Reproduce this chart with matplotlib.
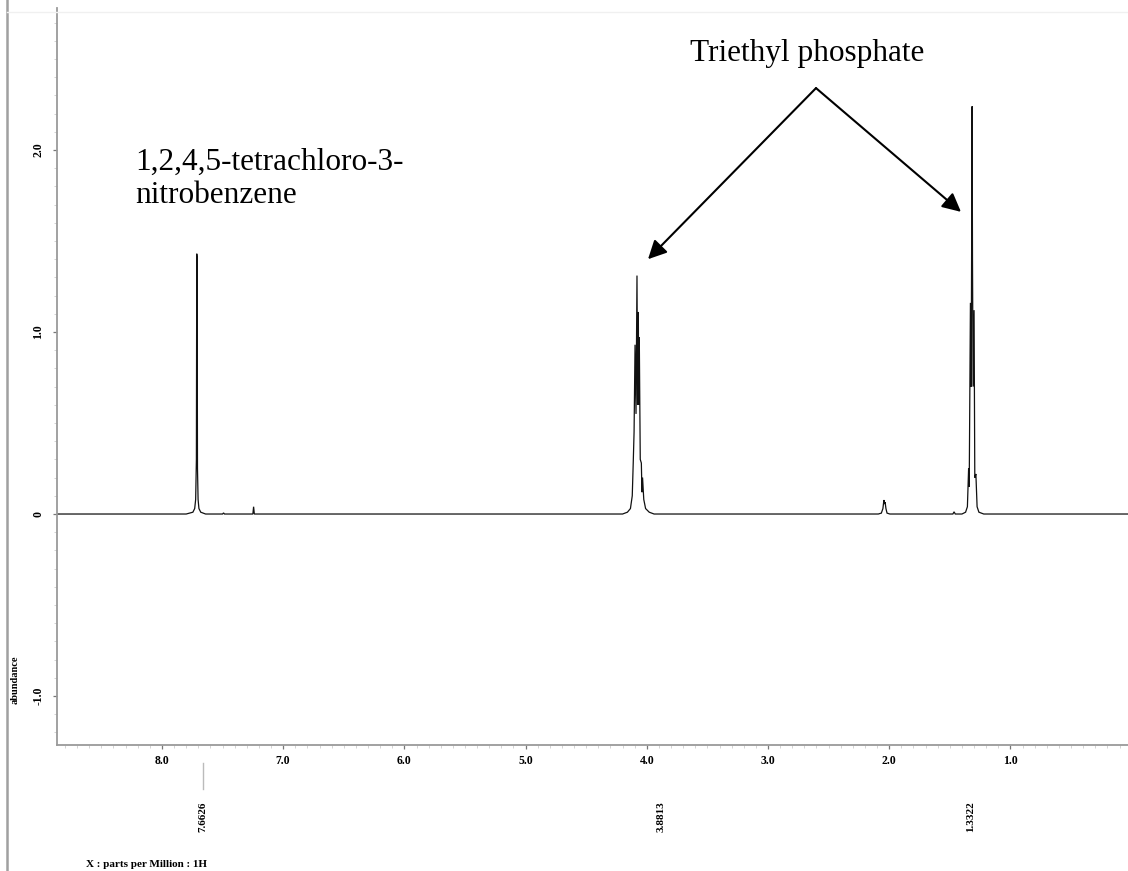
import numpy as np
import matplotlib
matplotlib.use('Agg')
import matplotlib.pyplot as plt
from matplotlib import transforms
from matplotlib.lines import Line2D
from matplotlib.ticker import MultipleLocator

# ── spectrum trace (ppm, abundance), high ppm first ──
ends_ppm = [8.866, 0.03]

arom_ppm = [7.80, 7.745, 7.73, 7.722, 7.716, 7.713, 7.710, 7.707, 7.702, 7.695, 7.68, 7.64]
arom_int = [0.0, 0.01, 0.03, 0.08, 0.30, 1.43, 1.41, 0.25, 0.08, 0.03, 0.01, 0.0]

small_ppm = [7.50, 7.492, 7.484, 7.25, 7.244, 7.238]
small_int = [0.0, 0.006, 0.0, 0.0, 0.04, 0.0]

ch2_ppm = [4.20, 4.16, 4.135, 4.12, 4.112, 4.105, 4.097, 4.089, 4.081, 4.076,
           4.070, 4.066, 4.062, 4.054, 4.045, 4.040, 4.035, 4.025, 4.01, 3.98, 3.94]
ch2_int = [0.0, 0.01, 0.03, 0.10, 0.28, 0.45, 0.93, 0.55, 1.31, 0.60,
           1.11, 0.60, 0.97, 0.30, 0.28, 0.12, 0.20, 0.08, 0.03, 0.01, 0.0]

acet_ppm = [2.09, 2.065, 2.052, 2.044, 2.039, 2.034, 2.027, 2.018, 1.995]
acet_int = [0.0, 0.005, 0.03, 0.077, 0.055, 0.065, 0.03, 0.005, 0.0]

bump_ppm = [1.475, 1.465, 1.455]
bump_int = [0.0, 0.012, 0.0]

ch3_ppm = [1.40, 1.37, 1.355, 1.345, 1.340, 1.330, 1.324, 1.316, 1.313, 1.308,
           1.300, 1.294, 1.285, 1.275, 1.26, 1.22]
ch3_int = [0.0, 0.01, 0.04, 0.25, 0.15, 1.16, 0.70, 2.24, 1.40, 0.70,
           1.12, 0.20, 0.22, 0.04, 0.01, 0.0]

# axis ticks
x_ticks = [8.0, 7.0, 6.0, 5.0, 4.0, 3.0, 2.0, 1.0]
y_ticks = [-1.0, 0.0, 1.0, 2.0]
y_tick_labels = ['-1.0', '0', '1.0', '2.0']

# peak-pick labels printed under the axis
pick_ppm = [7.6626, 3.8813, 1.3322]

ppm = np.concatenate([[ends_ppm[0]], arom_ppm, small_ppm, ch2_ppm, acet_ppm,
                      bump_ppm, ch3_ppm, [ends_ppm[1]]])
inten = np.concatenate([[0.0], arom_int, small_int, ch2_int, acet_int,
                        bump_int, ch3_int, [0.0]])

SERIF = 'Liberation Serif'
W, H = 1128, 871
fig = plt.figure(figsize=(W / 100, H / 100), dpi=100)
ax = fig.add_axes([57 / W, 1 - 745 / H, 1 - 57 / W, (745 - 8) / H])

ax.plot(ppm, inten, color='#111111', lw=0.9, solid_joinstyle='miter')
ax.set_xlim(8.866, 0.03)
ax.set_ylim(-1.269, 2.78)

for side in ('top', 'right'):
    ax.spines[side].set_visible(False)
for side in ('left', 'bottom'):
    ax.spines[side].set_color('#9a9a9a')
    ax.spines[side].set_linewidth(1.3)

ax.set_xticks(x_ticks)
ax.set_xticklabels([f'{v:.1f}' for v in x_ticks], fontfamily=SERIF,
                   fontweight='bold', fontsize=8.5)
ax.set_yticks(y_ticks)
ax.set_yticklabels(y_tick_labels, fontfamily=SERIF, fontweight='bold',
                   fontsize=8.5, rotation=90, va='center')
ax.xaxis.set_minor_locator(MultipleLocator(0.1))
ax.yaxis.set_minor_locator(MultipleLocator(0.1))
ax.tick_params(which='major', direction='out', length=3, width=0.9,
               color='#777777', pad=4)
ax.tick_params(which='minor', direction='out', length=2, width=0.6,
               color='#cccccc')
ax.tick_params(axis='y', pad=6)

# peak pick labels below the axis
trans = transforms.blended_transform_factory(ax.transData, fig.transFigure)
for v in pick_ppm:
    ax.text(v, 1 - 817 / H, f'{v:.4f}', transform=trans, rotation=90,
            ha='center', va='center', fontfamily=SERIF, fontweight='bold',
            fontsize=8, clip_on=False)
ax.add_line(Line2D([pick_ppm[0], pick_ppm[0]], [1 - 763 / H, 1 - 789 / H],
                   transform=trans, color='#bbbbbb', lw=1.0, clip_on=False))

# annotations
ax.text(8.22, 1.84, '1,2,4,5-tetrachloro-3-\nnitrobenzene', fontfamily=SERIF,
        fontsize=22.5, ha='left', va='center', linespacing=1.2)
ax.text(2.68, 2.53, 'Triethyl phosphate', fontfamily=SERIF, fontsize=22.5,
        ha='center', va='center')
apex = (2.604, 2.34)
for tip in [(3.99, 1.40), (1.408, 1.66)]:
    ax.annotate('', xy=tip, xytext=apex,
                arrowprops=dict(arrowstyle='-|>', mutation_scale=28, lw=1.5,
                                color='black', shrinkA=0, shrinkB=0))

# page texts and frame
fig.text(86 / W, 1 - 864 / H, 'X : parts per Million : 1H', fontfamily=SERIF,
         fontweight='bold', fontsize=8, ha='left', va='center')
fig.text(15 / W, 1 - 680 / H, 'abundance', fontfamily=SERIF, fontweight='bold',
         fontsize=7.5, rotation=90, ha='center', va='center')
fig.add_artist(Line2D([7 / W, 7 / W], [0, 1], color='#a0a0a0', lw=1.8))
fig.add_artist(Line2D([7 / W, 1], [1 - 12 / H, 1 - 12 / H], color='#f0f0f0', lw=1))

fig.savefig('out.png', dpi=100)
